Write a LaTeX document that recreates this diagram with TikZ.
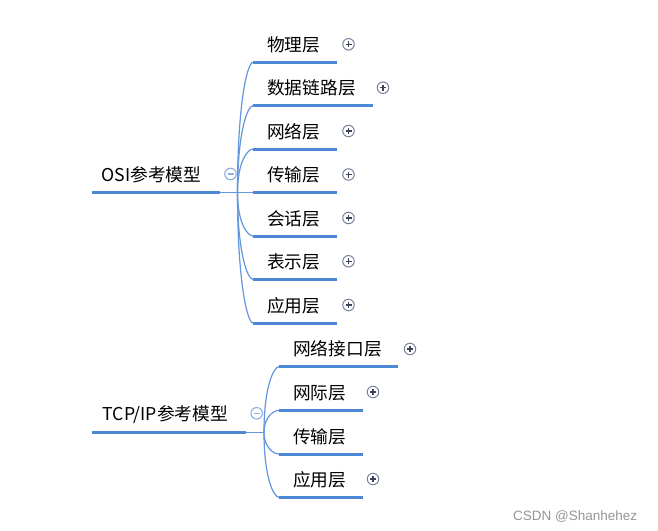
\documentclass[tikz,border=0pt]{standalone}
\usepackage{fontspec}
\setmainfont{Noto Sans CJK SC}
\newfontfamily\wmfont{Liberation Sans}
\usetikzlibrary{calc}
\definecolor{thickblue}{RGB}{77,136,212}
\definecolor{thinblue}{RGB}{98,150,222}
\definecolor{minusblue}{RGB}{140,176,226}
\definecolor{plusgray}{RGB}{120,130,155}
\definecolor{plusdark}{RGB}{60,66,90}
\definecolor{wmgray}{RGB}{150,150,150}
\tikzset{
  lbl/.style={anchor=west, inner sep=0pt, font=\fontsize{17.7}{20}\selectfont, text=black},
  uline/.style={draw=thickblue, line width=3pt},
  tline/.style={draw=thinblue, line width=1.2pt},
  curve/.style={draw=thinblue, line width=1.2pt},
  minusbtn/.style={circle, draw=minusblue, line width=1.1pt, minimum size=11.5pt, inner sep=0pt,
    path picture={\draw[minusblue, line width=1.1pt] ([xshift=-3pt]path picture bounding box.center) -- ([xshift=3pt]path picture bounding box.center);}},
  plusbtn/.style={circle, draw=plusgray, line width=1pt, minimum size=11.5pt, inner sep=0pt,
    path picture={\draw[plusdark, line width=1.1pt] ([xshift=-3pt]path picture bounding box.center) -- ([xshift=3pt]path picture bounding box.center)
       ([yshift=-3pt]path picture bounding box.center) -- ([yshift=3pt]path picture bounding box.center);}},
  wm/.style={anchor=west, inner sep=0pt, font=\wmfont\fontsize{13.5}{15}\selectfont, text=wmgray}
}
\newcommand\branchcurve[2]{%
  \draw[curve] (#1) .. controls ($(#1|-#2)!0.3!(#1)$) and ($(#1|-#2)!0.65!(#2)$) .. (#2);}
\begin{document}
\begin{tikzpicture}[x=1pt,y=-1pt]
\useasboundingbox[fill=white] (0,0) rectangle (658,530);

% ---------- OSI ----------
\node[lbl] (osi) at (101.5,175) {OSI参考模型};
\coordinate (osiS) at (92,192.5);
\coordinate (osiE) at (220,192.5);
\coordinate (osiB) at (237.5,192.5);
\draw[uline] (osiS) -- (osiE);
\node[minusbtn] (osiM) at (230.5,174) {};

\foreach \n/\y/\xe/\txt/\px in {
  1/62.3/337/物理层/348.5,
  2/105.7/373/数据链路层/383,
  3/149/337/网络层/348.5,
  4/192.5/337/传输层/348.5,
  5/236/337/会话层/348.5,
  6/279.3/337/表示层/348.5,
  7/323/337/应用层/348.5}{
  \coordinate (o\n s) at (253,\y);
  \coordinate (o\n e) at (\xe,\y);
  \draw[uline] (o\n s) -- (o\n e);
  \node[lbl] (o\n t) at (267,\y-17.5) {\txt};
  \node[plusbtn] (o\n p) at (\px,\y-18) {};
}
\draw[tline] (osiE) -- (o4s);
\foreach \n in {1,2,3,5,6,7}{\branchcurve{osiB}{o\n s}}

% ---------- TCP/IP ----------
\node[lbl] (tcp) at (102.5,415) {TCP/IP参考模型};
\coordinate (tcpS) at (92,432.3);
\coordinate (tcpE) at (245.7,432.3);
\coordinate (tcpB) at (264,432.3);
\draw[uline] (tcpS) -- (tcpE);
\draw[tline] (tcpE) -- (tcpB);
\node[minusbtn] (tcpM) at (256.7,413.3) {};

\foreach \n/\y/\xe/\txt in {
  1/366.7/398/网络接口层,
  2/410.3/363/网际层,
  3/454/363/传输层,
  4/497.3/363/应用层}{
  \coordinate (t\n s) at (279,\y);
  \coordinate (t\n e) at (\xe,\y);
  \draw[uline] (t\n s) -- (t\n e);
  \node[lbl] (t\n t) at (293,\y-17.5) {\txt};
  \branchcurve{tcpB}{t\n s}
}
\node[plusbtn] (t1p) at (410,349) {};
\node[plusbtn] (t2p) at (373,392) {};
\node[plusbtn] (t4p) at (373,479) {};

% ---------- watermark ----------
\node[wm] (wmk) at (513,516.7) {CSDN @Shanhehez};
\end{tikzpicture}
\end{document}
